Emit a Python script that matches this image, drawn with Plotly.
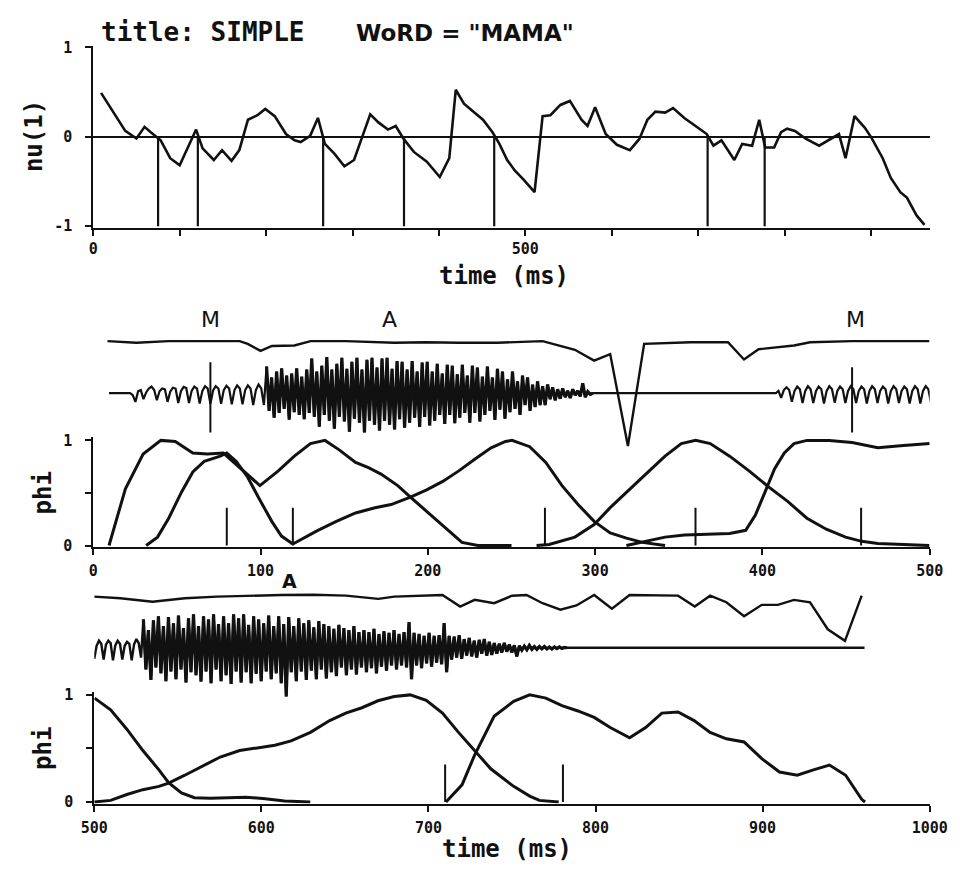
import plotly.graph_objects as go

INK = "#111111"
W, H = 968, 869

# ---------------- data ----------------
# top panel: nu(1) versus time (ms)
TOP_T = [9, 37, 50, 59.3, 66.5, 78, 89, 100, 119, 126.5, 139.5, 149, 160, 169, 179, 190, 199, 210,
         223, 233, 240, 251, 260, 268, 279, 290.6, 301.8, 320.5, 330, 341, 350, 359.6, 371, 386,
         401, 412, 419.5, 429, 440, 451, 462, 470, 479, 488, 498, 510.7, 520, 529, 540.6, 551.6,
         565, 572, 580.8, 593, 606, 621, 632, 641.3, 650.6, 661.8, 671, 684, 697, 710, 717.7, 727,
         741.9, 751, 762.5, 770.7, 777.5, 788, 796, 803, 812, 825, 840, 859, 863, 870.6, 881, 893,
         900.5, 913.6, 923, 934, 941.6, 952.8, 962]
TOP_NU = [0.49, 0.065, -0.02, 0.11, 0.05, -0.04, -0.24, -0.32, 0.08, -0.13, -0.26, -0.15, -0.27,
          -0.15, 0.19, 0.24, 0.31, 0.23, 0.03, -0.04, -0.06, 0.01, 0.21, -0.08, -0.19, -0.33, -0.26,
          0.25, 0.16, 0.08, 0.12, -0.03, -0.17, -0.28, -0.45, -0.24, 0.525, 0.37, 0.28, 0.19, 0.05,
          -0.08, -0.26, -0.38, -0.48, -0.62, 0.23, 0.24, 0.355, 0.40, 0.19, 0.12, 0.33, 0.03, -0.09,
          -0.15, -0.025, 0.19, 0.28, 0.27, 0.32, 0.21, 0.12, 0.03, -0.10, -0.04, -0.26, -0.08, -0.10,
          0.19, -0.12, -0.12, 0.05, 0.09, 0.065, -0.025, -0.10, 0.01, 0.03, -0.24, 0.23, 0.10, -0.01,
          -0.24, -0.46, -0.62, -0.68, -0.88, -0.985]
TOP_MARKS = [75, 121, 266, 359.6, 464, 711, 777]
TOP_XTICKS = [0, 100, 200, 300, 400, 500, 600, 700, 800, 900]
TOP_XTICKTEXT = ["0", "", "", "", "", "500", "", "", "", ""]

# middle section (0-500 ms): phi curves
PHI_MID_1_T = [9.4, 19.2, 29.8, 40.4, 49, 59.5, 68.2, 77.8, 99.6, 110.6, 120.2, 129.8, 138.5, 147,
               156.8, 164.5, 172, 182, 189.6, 199.3, 208.9, 220.4, 230, 250]
PHI_MID_1 = [0, 0.54, 0.87, 1.0, 0.99, 0.88, 0.87, 0.88, 0.57, 0.71, 0.85, 0.97, 1.0, 0.91, 0.79,
             0.74, 0.68, 0.57, 0.46, 0.325, 0.19, 0.03, 0, 0]
PHI_MID_2_T = [31.6, 38.4, 45.1, 52.8, 59.5, 66.3, 75.9, 79.8, 85.5, 92.3, 99, 106.7, 112.5, 119.3]
PHI_MID_2 = [0, 0.08, 0.26, 0.51, 0.70, 0.80, 0.85, 0.88, 0.80, 0.65, 0.45, 0.23, 0.09, 0.015]
PHI_MID_3_T = [119.3, 133.7, 145.3, 156.8, 168.4, 178, 189.6, 199.3, 208.9, 218.5, 228, 237.8, 246.4,
               250.3, 260.9, 270.5, 280.2, 289.8, 299.4, 309, 318.7, 328.3, 341.8]
PHI_MID_3 = [0.015, 0.14, 0.23, 0.31, 0.36, 0.39, 0.46, 0.53, 0.61, 0.71, 0.82, 0.93, 0.99, 1.0,
             0.94, 0.79, 0.57, 0.39, 0.23, 0.12, 0.07, 0.03, 0]
PHI_MID_4_T = [265, 272.5, 287.9, 299.4, 309, 318.7, 330.3, 341.8, 351.5, 360.1, 368.8, 380.4, 392,
               403.5, 415.1, 426.6, 438.2, 449.7, 459.4, 469, 482.5, 499.8]
PHI_MID_4 = [0, 0.01, 0.08, 0.2, 0.36, 0.51, 0.68, 0.85, 0.97, 1.0, 0.97, 0.85, 0.71, 0.56, 0.42,
             0.26, 0.155, 0.08, 0.04, 0.02, 0.01, 0]
PHI_MID_5_T = [318.7, 330.3, 341.8, 353.4, 366.9, 380.4, 390, 395.8, 401.6, 407.3, 413.1, 418.9,
               426.6, 440, 453.6, 469, 482.5, 500]
PHI_MID_5 = [0, 0.04, 0.08, 0.10, 0.11, 0.115, 0.145, 0.29, 0.51, 0.73, 0.88, 0.97, 1.0, 1.0, 0.98,
             0.93, 0.95, 0.97]
PHI_MID_MARKS = [79.8, 119.3, 270, 360, 459]

# middle section: amplitude envelope (1 = level line)
MID_ENV_T = [8.5, 25.8, 45, 64.3, 74, 87.5, 92.3, 100, 106.8, 120.2, 129.9, 151, 180, 199, 218.5,
             241.6, 268.6, 287.9, 299.4, 309, 319.6, 329.3, 357.2, 379.4, 389, 397.7, 418.9, 428.5,
             453.6, 499.8]
MID_ENV = [1.0, 0.985, 1.0, 1.0, 1.0, 1.0, 0.975, 0.91, 0.955, 0.96, 1.0, 1.0, 0.985, 0.99, 0.985,
           0.985, 1.0, 0.92, 0.82, 0.88, 0.03, 0.975, 0.99, 0.99, 0.83, 0.925, 0.96, 0.99, 1.0, 1.0]

# middle section: waveform pieces (start ms, step ms, samples)
MID_WAVE_LEAD_T = [9.4, 20.4]
MID_WAVE_LEAD = [0.0, 0.0]
MID_WAVE_M1_T0, MID_WAVE_M1_DT = 22.0, 1.6
MID_WAVE_M1 = [0.00, -0.05, -0.22, 0.05, 0.08, -0.15, 0.02, 0.12, 0.17, 0.08, -0.18, 0.05, 0.12,
               0.10, -0.22, 0.04, 0.14, 0.12, -0.25, 0.05, 0.16, 0.13, -0.25, 0.06, 0.17, 0.12,
               -0.26, 0.06, 0.18, 0.12, -0.27, 0.07, 0.18, 0.12, -0.27, 0.08, 0.19, 0.12, -0.28,
               0.08, 0.20, 0.12, -0.28, 0.08, 0.20, 0.12, -0.30, 0.08, 0.22, 0.12, -0.30]
MID_WAVE_A_T0, MID_WAVE_A_DT = 103.6, 1.5
MID_WAVE_A = [0.68, -0.45, 0.40, -0.62, 0.55, -0.50, 0.63, -0.40, 0.45, -0.67,
              0.50, -0.48, 0.63, -0.55, 0.42, -0.66, 0.60, -0.50, 0.88, -0.60,
              0.55, -0.85, 0.70, -0.55, 0.92, -0.70, 0.60, -0.90, 0.75, -0.60,
              0.90, -0.72, 0.62, -0.98, 0.80, -0.65, 0.90, -0.75, 0.60, -1.00,
              0.85, -0.70, 0.90, -0.80, 0.65, -0.95, 0.88, -0.70, 0.90, -0.80,
              0.62, -0.92, 0.82, -0.66, 0.80, -0.88, 0.60, -0.75, 0.82, -0.62,
              0.55, -0.86, 0.78, -0.60, 0.80, -0.82, 0.55, -0.70, 0.75, -0.55,
              0.50, -0.78, 0.72, -0.55, 0.70, -0.76, 0.48, -0.62, 0.72, -0.50,
              0.45, -0.75, 0.70, -0.50, 0.65, -0.72, 0.42, -0.55, 0.68, -0.45,
              0.40, -0.68, 0.62, -0.42, 0.55, -0.65, 0.35, -0.48, 0.55, -0.40,
              0.30, -0.55, 0.45, -0.30, 0.40, -0.45, 0.22, -0.35, 0.30, -0.30,
              0.18, -0.30, 0.22, -0.15, 0.15, -0.18, 0.10, -0.14, 0.12, -0.10,
              0.06, -0.12, 0.10, -0.05, 0.06, -0.08, 0.25, -0.10, 0.04, -0.03,
              0.00]
MID_WAVE_GAP_T = [300.0, 406.4]
MID_WAVE_GAP = [0.0, 0.0]
MID_WAVE_M2_T0, MID_WAVE_M2_DT = 408.0, 1.6
MID_WAVE_M2 = [0.00, 0.06, -0.12, 0.08, 0.15, 0.08, -0.22, 0.06, 0.17, 0.10, -0.25, 0.06, 0.18,
               0.10, -0.25, 0.05, 0.17, 0.10, -0.26, 0.06, 0.18, 0.10, -0.24, 0.06, 0.17, 0.10,
               -0.25, 0.06, 0.18, 0.10, -0.25, 0.06, 0.17, 0.10, -0.26, 0.06, 0.18, 0.10, -0.25,
               0.06, 0.17, 0.10, -0.26, 0.06, 0.18, 0.10, -0.25, 0.06, 0.17, 0.10, -0.26, 0.06,
               0.18, 0.10, -0.26, 0.06, 0.18, 0.10, -0.25]
MID_WAVE_MARKS = [70, 453.6]
MID_WAVE_MARK_TOP = [0.79, 0.66]

# bottom section (500-1000 ms)
PHI_BOT_1_T = [500.2, 509.8, 519.5, 529.1, 538.7, 544.5, 552.2, 559.9, 569.5, 579.2, 590.7, 602.3,
               613.9, 629.3]
PHI_BOT_1 = [0.97, 0.86, 0.68, 0.48, 0.30, 0.18, 0.085, 0.04, 0.035, 0.04, 0.045, 0.03, 0.01, 0]
PHI_BOT_2_T = [500, 509.8, 519.5, 529.1, 538.7, 544.5, 554.2, 563.8, 575.4, 587, 598.5, 608.1, 617.8,
               629.4, 640.9, 650.5, 660.2, 669.8, 679.5, 689.1, 698.7, 708.4, 718, 727.7, 737.3, 751,
               760.6, 766.4, 778]
PHI_BOT_2 = [0, 0.015, 0.07, 0.115, 0.146, 0.177, 0.25, 0.33, 0.42, 0.48, 0.51, 0.53, 0.57, 0.65,
             0.76, 0.83, 0.88, 0.945, 0.985, 1.0, 0.95, 0.83, 0.65, 0.48, 0.31, 0.146, 0.055, 0.015, 0]
PHI_BOT_3_T = [710.5, 720.1, 727.7, 739.3, 751, 760.6, 770.3, 779.9, 789.5, 799.2, 808.8, 820.4, 830,
               839.7, 849.4, 859, 868.6, 878.3, 888.9, 899.5, 910.1, 920.7, 930.4, 940, 949.7, 959.3,
               961.3]
PHI_BOT_3 = [0, 0.16, 0.44, 0.80, 0.94, 1.0, 0.97, 0.90, 0.85, 0.79, 0.695, 0.60, 0.695, 0.83, 0.84,
             0.76, 0.65, 0.59, 0.56, 0.405, 0.28, 0.25, 0.30, 0.345, 0.25, 0.025, 0]
PHI_BOT_MARKS = [710, 780.5]

BOT_ENV_T = [500, 515.6, 534.9, 554.2, 573.5, 592.8, 612, 631.4, 650.7, 670, 679.5, 708.4, 719, 727.7,
             739.3, 750, 758.7, 768.3, 779, 788.6, 799.2, 809.8, 820.4, 849.4, 859.4, 868.6, 878.3,
             888.9, 899.5, 909.1, 918.8, 928.4, 939, 949.3, 959.3]
BOT_ENV = [0.982, 0.967, 0.934, 0.967, 0.982, 0.991, 0.997, 1.0, 0.991, 0.961, 0.982, 0.997, 0.89,
           0.952, 0.921, 0.99, 0.997, 0.921, 0.861, 0.9, 0.997, 0.87, 0.997, 0.991, 0.89, 0.991,
           0.93, 0.80, 0.906, 0.906, 0.952, 0.93, 0.68, 0.573, 0.991]

BOT_WAVE_M_T0, BOT_WAVE_M_DT = 500.0, 1.4
BOT_WAVE_M = [-0.28, 0.05, 0.18, 0.10, -0.30, 0.08, 0.18, 0.12, -0.32, 0.06, 0.18, 0.10, -0.30,
              0.05, 0.15, 0.10, -0.32, 0.08, 0.22, 0.12, -0.25]
BOT_WAVE_A_T0, BOT_WAVE_A_DT = 529.4, 1.5
BOT_WAVE_A = [0.72, -0.55, 0.45, -0.82, 0.70, -0.50, 0.80, -0.65, 0.55, -0.85,
              0.78, -0.60, 0.62, -0.80, 0.82, -0.55, 0.50, -0.88, 0.75, -0.62,
              0.85, -0.70, 0.55, -0.86, 0.80, -0.60, 0.72, -0.90, 0.85, -0.55,
              0.60, -0.85, 0.80, -0.70, 0.62, -0.92, 0.85, -0.60, 0.75, -0.88,
              0.85, -0.62, 0.58, -0.90, 0.80, -0.66, 0.72, -0.85, 0.62, -0.60,
              0.82, -0.80, 0.55, -0.65, 0.80, -0.90, 0.60, -1.24, 0.78, -0.62,
              0.55, -0.85, 0.75, -0.60, 0.62, -0.82, 0.70, -0.58, 0.52, -0.80,
              0.68, -0.55, 0.60, -0.78, 0.55, -0.62, 0.48, -0.72, 0.58, -0.50,
              0.50, -0.70, 0.45, -0.55, 0.55, -0.68, 0.40, -0.50, 0.45, -0.62,
              0.40, -0.52, 0.48, -0.65, 0.35, -0.48, 0.42, -0.58, 0.38, -0.45,
              0.45, -0.55, 0.35, -0.45, 0.40, -0.50, 0.65, -0.80, 0.38, -0.45,
              0.35, -0.52, 0.30, -0.40, 0.38, -0.48, 0.30, -0.38, 0.32, -0.42,
              0.63, -0.62, 0.30, -0.30, 0.28, -0.25, 0.32, -0.28, 0.22, -0.20,
              0.25, -0.22, 0.18, -0.25, 0.20, -0.15, 0.22, -0.20, 0.15, -0.18,
              0.12, -0.15, 0.10, -0.12, 0.12, -0.10, 0.08, -0.12, 0.06, -0.22,
              0.05, -0.06, 0.04, -0.05, 0.06, -0.04, 0.03, -0.04, 0.03, -0.03,
              0.03, -0.03, 0.02, -0.03, 0.02, -0.02, 0.02, -0.02, 0.01, 0.00]
BOT_WAVE_TAIL_T = [784.4, 961.0]
BOT_WAVE_TAIL = [0.0, 0.0]

PHONEME_MID = ["M", "A", "M"]
PHONEME_MID_T = [70, 177, 455.5]
PHONEME_BOT = ["A"]
PHONEME_BOT_T = [617]

MID_XTICKS = [0, 100, 200, 300, 400, 500]
BOT_XTICKS = [500, 600, 700, 800, 900, 1000]
PHI_YTICKS = [0, 0.5, 1]
PHI_YTICKTEXT = ["0", "", "1"]


# ---------------- helpers ----------------
def fx(px):
    return px / W


def fy(py):
    return 1 - py / H


def sampled(t0, dt, vals):
    return [t0 + i * dt for i in range(len(vals))], list(vals)


def join(*pieces):
    xs, ys = [], []
    for px_, py_ in pieces:
        xs += list(px_)
        ys += list(py_)
    return xs, ys


def spikes(times, tops, base=0.0):
    xs, ys = [], []
    for t, top in zip(times, tops):
        xs += [t, t, None]
        ys += [base, top, None]
    return xs, ys


def line(x, y, xa, ya, width):
    return go.Scatter(x=x, y=y, xaxis=xa, yaxis=ya, mode="lines",
                      line=dict(color=INK, width=width), hoverinfo="skip",
                      showlegend=False)


fig = go.Figure()

# top panel
fig.add_trace(line(TOP_T, TOP_NU, "x", "y", 2.6))
mx, my = spikes(TOP_MARKS, [-1.0] * len(TOP_MARKS))
fig.add_trace(line(mx, my, "x", "y", 2.2))

# middle section
for t, v in [(PHI_MID_1_T, PHI_MID_1), (PHI_MID_2_T, PHI_MID_2), (PHI_MID_3_T, PHI_MID_3),
             (PHI_MID_4_T, PHI_MID_4), (PHI_MID_5_T, PHI_MID_5)]:
    fig.add_trace(line(t, v, "x2", "y2", 3.0))
mx, my = spikes(PHI_MID_MARKS, [0.36] * len(PHI_MID_MARKS))
fig.add_trace(line(mx, my, "x2", "y2", 2.0))

mid_burst = sampled(MID_WAVE_A_T0, MID_WAVE_A_DT, MID_WAVE_A)
wx, wy = join((MID_WAVE_LEAD_T, MID_WAVE_LEAD),
              sampled(MID_WAVE_M1_T0, MID_WAVE_M1_DT, MID_WAVE_M1),
              mid_burst,
              (MID_WAVE_GAP_T, MID_WAVE_GAP),
              sampled(MID_WAVE_M2_T0, MID_WAVE_M2_DT, MID_WAVE_M2))
fig.add_trace(line(wx, wy, "x2", "y3", 2.2))
fig.add_trace(line(mid_burst[0], mid_burst[1], "x2", "y3", 3.2))   # dense voiced burst
mx, my = spikes(MID_WAVE_MARKS, MID_WAVE_MARK_TOP, base=-1.0)
fig.add_trace(line(mx, my, "x2", "y3", 2.0))
fig.add_trace(line(MID_ENV_T, MID_ENV, "x2", "y4", 2.4))

# bottom section
for t, v in [(PHI_BOT_1_T, PHI_BOT_1), (PHI_BOT_2_T, PHI_BOT_2), (PHI_BOT_3_T, PHI_BOT_3)]:
    fig.add_trace(line(t, v, "x3", "y5", 3.0))
mx, my = spikes(PHI_BOT_MARKS, [0.35] * len(PHI_BOT_MARKS))
fig.add_trace(line(mx, my, "x3", "y5", 2.0))

bot_burst = sampled(BOT_WAVE_A_T0, BOT_WAVE_A_DT, BOT_WAVE_A)
wx, wy = join(sampled(BOT_WAVE_M_T0, BOT_WAVE_M_DT, BOT_WAVE_M),
              bot_burst,
              (BOT_WAVE_TAIL_T, BOT_WAVE_TAIL))
fig.add_trace(line(wx, wy, "x3", "y6", 2.4))
fig.add_trace(line(bot_burst[0], bot_burst[1], "x3", "y6", 3.2))   # dense voiced burst
fig.add_trace(line(BOT_ENV_T, BOT_ENV, "x3", "y7", 2.4))

# ---------------- layout ----------------
TICKFONT = dict(family="DejaVu Sans Mono", size=15, color=INK, weight="bold")
LABFONT = dict(family="DejaVu Sans Mono", size=24, color=INK, weight="bold")


def xax(dom, rng, anchor, tv, tt, standoff=3):
    return dict(domain=dom, range=rng, anchor=anchor, showline=True, linewidth=2, linecolor=INK,
                ticks="outside", ticklen=6, tickwidth=2, tickcolor=INK, tickvals=tv, ticktext=tt,
                tickfont=TICKFONT, showgrid=False, zeroline=False, ticklabelstandoff=standoff,
                fixedrange=True)


def yax(dom, rng, anchor, tv, tt, zero=False):
    return dict(domain=dom, range=rng, anchor=anchor, showline=True, linewidth=2, linecolor=INK,
                ticks="outside", ticklen=6, tickwidth=2, tickcolor=INK, tickvals=tv, ticktext=tt,
                tickfont=TICKFONT, showgrid=False, zeroline=zero, zerolinecolor=INK,
                zerolinewidth=2, ticklabelstandoff=10, fixedrange=True)


def hidden(dom, rng, anchor):
    return dict(domain=dom, range=rng, anchor=anchor, visible=False, fixedrange=True)


fig.update_layout(
    width=W, height=H, autosize=False,
    margin=dict(l=0, r=0, t=0, b=0),
    paper_bgcolor="white", plot_bgcolor="rgba(0,0,0,0)",
    xaxis=xax([fx(82), fx(947)], [0, 968], "y", TOP_XTICKS, TOP_XTICKTEXT, standoff=0),
    yaxis=yax([fy(224.4), fy(39.6)], [-1.015, 1.015], "x", [-1, 0, 1], ["-1", "0", "1"], zero=True),
    xaxis2=xax([fx(82), fx(947)], [0, 500], "y2", MID_XTICKS, [str(v) for v in MID_XTICKS]),
    yaxis2=yax([fy(549.6), fy(437.8)], [-0.015, 1.03], "x2", PHI_YTICKS, PHI_YTICKTEXT),
    yaxis3=hidden([fy(445), fy(341)], [-1.3, 1.3], "x2"),
    yaxis4=hidden([fy(450), fy(334.5)], [0, 1.05], "x2"),
    xaxis3=xax([fx(83), fx(947)], [500, 1000], "y5", BOT_XTICKS, [str(v) for v in BOT_XTICKS]),
    yaxis5=yax([fy(810.6), fy(696.7)], [-0.015, 1.03], "x3", PHI_YTICKS, PHI_YTICKTEXT),
    yaxis6=hidden([fy(704), fy(600)], [-1.3, 1.3], "x3"),
    yaxis7=hidden([fy(708), fy(592.5)], [0, 1.05], "x3"),
)

ann = [
    dict(text="title: SIMPLE", x=fx(195), y=fy(25), font=dict(family="DejaVu Sans Mono", size=26,
                                                              color=INK, weight="bold")),
    dict(text='WoRD = "MAMA"', x=fx(466), y=fy(26), font=dict(family="DejaVu Sans", size=23,
                                                              color=INK, weight="bold")),
    dict(text="nu(1)", x=fx(20), y=fy(131), textangle=-90, font=LABFONT),
    dict(text="time (ms)", x=fx(507), y=fy(274), font=LABFONT),
    dict(text="phi", x=fx(30), y=fy(495), textangle=-90, font=LABFONT),
    dict(text="phi", x=fx(30), y=fy(755), textangle=-90, font=LABFONT),
    dict(text="time (ms)", x=fx(510), y=fy(857), font=LABFONT),
]
for a in ann:
    a.update(xref="paper", yref="paper", showarrow=False, xanchor="center", yanchor="middle")

for lab, t in zip(PHONEME_MID, PHONEME_MID_T):
    ann.append(dict(text=lab, x=t, y=fy(318), xref="x2", yref="paper", showarrow=False,
                    xanchor="center", yanchor="middle",
                    font=dict(family="DejaVu Sans", size=22, color=INK)))
for lab, t in zip(PHONEME_BOT, PHONEME_BOT_T):
    ann.append(dict(text=lab, x=t, y=fy(584), xref="x3", yref="paper", showarrow=False,
                    xanchor="center", yanchor="middle",
                    font=dict(family="DejaVu Sans", size=19, color=INK, weight="bold")))
fig.update_layout(annotations=ann)

fig.write_html("out.html")
